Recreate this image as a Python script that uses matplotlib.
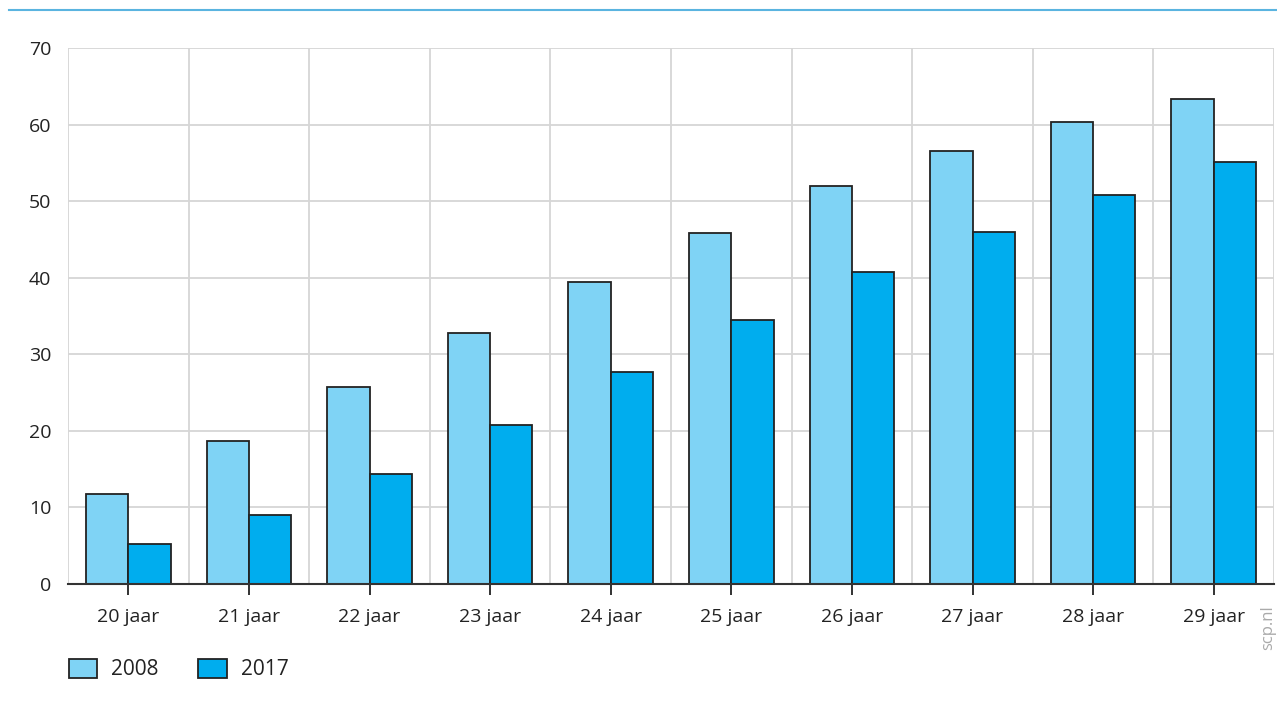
import matplotlib.pyplot as plt
import numpy as np

categories = ['20 jaar', '21 jaar', '22 jaar', '23 jaar', '24 jaar',
              '25 jaar', '26 jaar', '27 jaar', '28 jaar', '29 jaar']
values_2008 = [11.7, 18.7, 25.7, 32.8, 39.5, 45.9, 52.0, 56.6, 60.3, 63.4]
values_2017 = [5.2, 9.0, 14.4, 20.8, 27.7, 34.5, 40.7, 46.0, 50.8, 55.1]
series_labels = ['2008', '2017']
yticks = [0, 10, 20, 30, 40, 50, 60, 70]

plt.rcParams['font.family'] = ['Open Sans', 'DejaVu Sans']

fig = plt.figure(figsize=(12.77, 7.04), dpi=100)
ax = fig.add_axes([68 / 1277, 120 / 704, 1206 / 1277, 536 / 704])

x = np.arange(len(categories))
w = 0.35
ax.bar(x - w / 2, values_2008, w, color='#7fd3f5', edgecolor='#222222',
       linewidth=1.3, label=series_labels[0], zorder=3)
ax.bar(x + w / 2, values_2017, w, color='#00adee', edgecolor='#222222',
       linewidth=1.3, label=series_labels[1], zorder=3)

ax.set_xlim(-0.5, len(categories) - 0.5)
ax.set_ylim(0, 70)
ax.set_yticks(yticks)
ax.set_yticklabels([str(v) for v in yticks], fontsize=14, color='#222222')
ax.set_xticks(x)
ax.set_xticklabels(categories, fontsize=14, color='#222222')
ax.set_xticks(np.arange(-0.5, len(categories)), minor=True)

ax.grid(axis='y', color='#d6d6d6', linewidth=1.3, zorder=0)
ax.grid(axis='x', which='minor', color='#d6d6d6', linewidth=1.3, zorder=0)
ax.tick_params(axis='x', which='major', length=8, width=1.3, color='#222222', pad=9)
ax.tick_params(axis='x', which='minor', length=0)
ax.tick_params(axis='y', length=0, pad=12)
for s in ['left', 'right', 'top']:
    ax.spines[s].set_visible(False)
ax.spines['bottom'].set_color('#333333')
ax.spines['bottom'].set_linewidth(1.5)
ax.spines['bottom'].set_zorder(4)

fig.add_artist(plt.Line2D([9 / 1277, 1], [694 / 704, 694 / 704], color='#5ab4e0', linewidth=1.5))

ax.legend(loc='upper left', bbox_to_anchor=(-0.015, -0.105), ncol=2, frameon=False,
          fontsize=15, handlelength=1.35, handleheight=1.0, columnspacing=1.9,
          handletextpad=0.7, labelcolor='#222222')

fig.text(1268 / 1277, (704 - 628) / 704, 'scp.nl', rotation=90, color='#aaaaaa',
         fontsize=12, ha='center', va='center')

fig.savefig('out.png', dpi=100)
